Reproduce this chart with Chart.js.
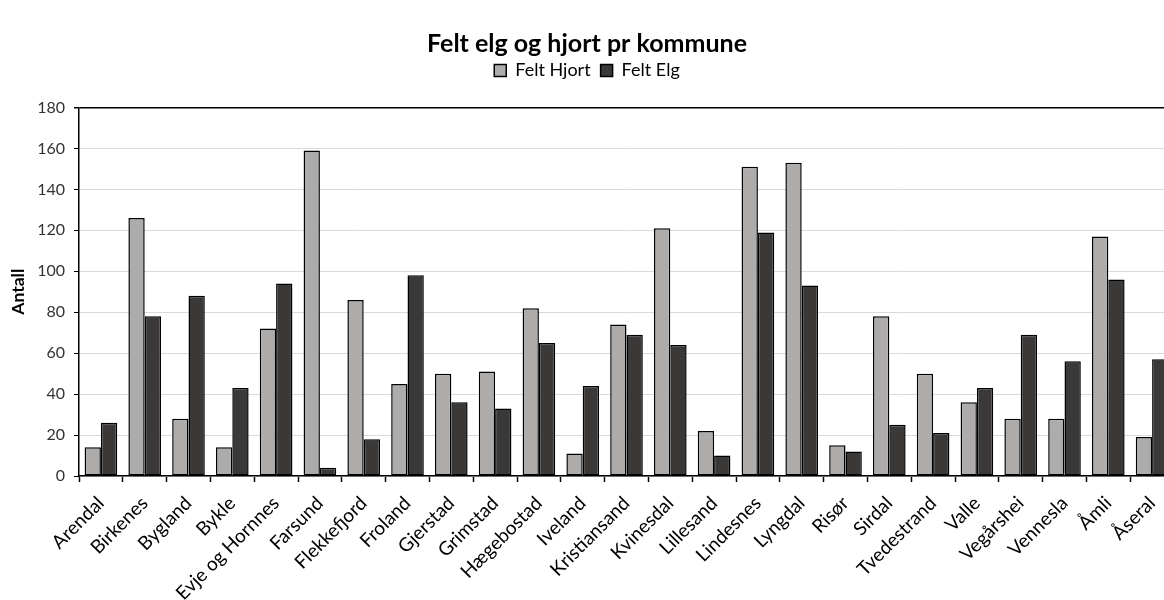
<!DOCTYPE html>
<html>
<head>
<meta charset="utf-8">
<script src="https://cdn.jsdelivr.net/npm/chart.js@4"></script>
<style>
  html, body { margin: 0; padding: 0; overflow: hidden; background: #fff; }
</style>
</head>
<body>
<canvas id="chart" width="1180" height="600"></canvas>
<script>
// Kommuner (x-akse)
const kommuner = ['Arendal', 'Birkenes', 'Bygland', 'Bykle', 'Evje og Hornnes', 'Farsund', 'Flekkefjord',
  'Froland', 'Gjerstad', 'Grimstad', 'Hægebostad', 'Iveland', 'Kristiansand', 'Kvinesdal', 'Lillesand',
  'Lindesnes', 'Lyngdal', 'Risør', 'Sirdal', 'Tvedestrand', 'Valle', 'Vegårshei', 'Vennesla', 'Åmli', 'Åseral'];

// Felt hjort / felt elg
const feltHjort = [14, 126, 28, 14, 72, 159, 86, 45, 50, 51, 82, 11, 74, 121, 22, 151, 153, 15, 78, 50, 36, 28, 28, 117, 19];
const feltElg = [26, 78, 88, 43, 94, 4, 18, 98, 36, 33, 65, 44, 69, 64, 10, 119, 93, 12, 25, 21, 43, 69, 56, 96, 57];

const yTicks = [0, 20, 40, 60, 80, 100, 120, 140, 160, 180];

const FONT = "'Lato', 'Open Sans', sans-serif";

// extra space under the legend
const legendGap = {
  id: 'legendGap',
  beforeInit(chart) {
    const fit = chart.legend.fit;
    chart.legend.fit = function() {
      fit.bind(chart.legend)();
      this.height += 18;
    };
  }
};

new Chart(document.getElementById('chart'), {
  type: 'bar',
  data: {
    labels: kommuner,
    datasets: [
      {
        label: 'Felt Hjort',
        data: feltHjort,
        backgroundColor: '#aeabab',
        borderColor: '#000000',
        borderWidth: 1.5,
        borderSkipped: false,
        categoryPercentage: 0.745,
        barPercentage: 1.0
      },
      {
        label: 'Felt Elg',
        data: feltElg,
        backgroundColor: '#3b3838',
        borderColor: '#000000',
        borderWidth: 1.5,
        borderSkipped: false,
        categoryPercentage: 0.745,
        barPercentage: 1.0
      }
    ]
  },
  options: {
    responsive: false,
    animation: false,
    layout: { padding: { left: 0, right: 6, top: 0, bottom: 0 } },
    plugins: {
      title: {
        display: true,
        text: 'Felt elg og hjort pr kommune',
        color: '#000',
        font: { family: FONT, size: 25, weight: 'bold', lineHeight: 0.6 },
        padding: { top: 36.5, bottom: 0 }
      },
      legend: {
        position: 'top',
        labels: {
          boxWidth: 12,
          boxHeight: 12,
          padding: 10,
          color: '#000',
          font: { family: FONT, size: 18 }
        }
      },
      tooltip: { enabled: false }
    },
    scales: {
      x: {
        offset: true,
        afterFit(scale) { scale.height = 124; },
        border: { display: true, color: '#000', width: 1.5 },
        grid: {
          offset: true,
          drawOnChartArea: false,
          drawTicks: true,
          tickLength: 6,
          tickColor: '#000',
          tickWidth: 1.5
        },
        ticks: {
          autoSkip: false,
          maxRotation: 45,
          minRotation: 45,
          padding: 10,
          color: '#000',
          font: { family: FONT, size: 19 }
        }
      },
      y: {
        min: 0,
        max: 180,
        afterFit(scale) { scale.width = 79; },
        afterBuildTicks(scale) { scale.ticks = yTicks.map(v => ({ value: v })); },
        border: { display: true, color: '#000', width: 1.5 },
        grid: {
          color: ctx => (ctx.tick && ctx.tick.value === 180) ? '#000' : '#d9d9d9',
          lineWidth: ctx => (ctx.tick && ctx.tick.value === 180) ? 1.5 : 1,
          drawTicks: true,
          tickLength: 5,
          tickColor: '#000'
        },
        ticks: {
          padding: 9,
          color: '#333',
          font: { family: FONT, size: 16 }
        },
        title: {
          display: true,
          text: 'Antall',
          color: '#000',
          font: { family: FONT, size: 17.5, weight: 'bold' },
          padding: { top: 8, bottom: 0 }
        }
      }
    }
  },
  plugins: [legendGap]
});
</script>
</body>
</html>
